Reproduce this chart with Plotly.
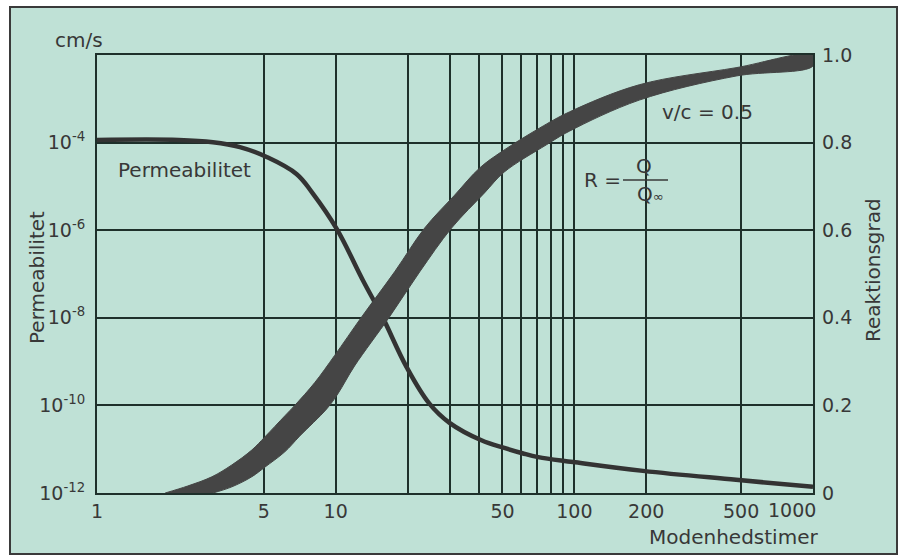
import plotly.graph_objects as go

# ---------------- data ----------------
hours_perm = [1, 2.2, 3.06, 3.97, 5.14, 6.87, 8.0, 10.1, 13.0, 15.7, 19.8, 24.7,
              30, 40.8, 50.9, 60.6, 70.6, 99, 194, 476, 1000]
permeability = [1.15e-4, 1.15e-4, 1.02e-4, 7.9e-5, 4.7e-5, 1.9e-5, 7.0e-6, 1.07e-6,
                7.2e-8, 1.05e-8, 7.6e-10, 1.1e-10, 4.0e-11, 1.6e-11, 1.07e-11,
                8.1e-12, 6.6e-12, 5.1e-12, 3.2e-12, 2.0e-12, 1.38e-12]

hours_r_upper = [1.93, 2.40, 3.03, 3.67, 4.45, 5.05, 6.12, 6.74, 8.17, 9.90, 12.85,
                 17.66, 23.6, 31.5, 40.1, 49.5, 71.4, 95.3, 187, 476, 1000]
r_upper = [0, 0.016, 0.037, 0.064, 0.098, 0.128, 0.176, 0.200, 0.252, 0.314, 0.402,
           0.505, 0.605, 0.680, 0.742, 0.779, 0.833, 0.870, 0.932, 0.971, 1.0]
hours_r_lower = [3.06, 3.67, 4.45, 5.05, 6.12, 7.07, 9.17, 10.2, 12.0, 16.8, 22.5,
                 30.6, 42.0, 50.9, 76.4, 95.3, 187, 476, 1000]
r_lower = [0, 0.014, 0.037, 0.059, 0.094, 0.130, 0.192, 0.226, 0.290, 0.402, 0.505,
           0.605, 0.685, 0.733, 0.795, 0.826, 0.897, 0.952, 0.975]

x_tickvals = [1, 5, 10, 20, 30, 40, 50, 60, 70, 80, 90, 100, 200, 500, 1000]
x_ticktext = ["1", "5", "10", "", "", "", "50", "", "", "", "", "100", "200", "500", ""]
x_last_label = "1000"
y_tickvals = [1e-12, 1e-10, 1e-8, 1e-6, 1e-4, 1e-2]
y_ticktext = ["10<sup>-12</sup>", "10<sup>-10</sup>", "10<sup>-8</sup>",
              "10<sup>-6</sup>", "10<sup>-4</sup>", ""]
y2_tickvals = [0, 0.2, 0.4, 0.6, 0.8, 1.0]
y2_ticktext = ["0", "0.2", "0.4", "0.6", "0.8", "1.0"]

# ---------------- layout geometry ----------------
W, H = 903, 557
L, R, T, B = 97, 813, 55, 493
MINT = "#bfe1d6"
INK = "#383838"
GRID = "#1e302b"
FONT = "DejaVu Sans"


def px(x):
    return (x - L) / (R - L)


def py(y):
    return (B - y) / (B - T)


fig = go.Figure()

# reaction band (filled polygon)
band_x = hours_r_upper + hours_r_lower[::-1]
band_y = r_upper + r_lower[::-1]
fig.add_trace(go.Scatter(
    x=band_x, y=band_y, yaxis="y2", mode="lines", fill="toself",
    fillcolor="#454545", line=dict(color="#454545", width=1, shape="spline", smoothing=1.0),
    hoverinfo="skip", showlegend=False))

# permeability curve
fig.add_trace(go.Scatter(
    x=hours_perm, y=permeability, mode="lines",
    line=dict(color="#333333", width=4.5, shape="spline", smoothing=1.1),
    showlegend=False))

fig.update_layout(
    width=W, height=H,
    margin=dict(l=L, r=W - R, t=T, b=H - B, autoexpand=False),
    paper_bgcolor="white",
    plot_bgcolor="rgba(0,0,0,0)",
    font=dict(family=FONT, size=19, color=INK),
    xaxis=dict(type="log", range=[0, 3], tickvals=x_tickvals, ticktext=x_ticktext,
               showgrid=True, gridcolor=GRID, gridwidth=1.6,
               showline=True, linecolor=GRID, linewidth=2, mirror=True,
               ticks="", ticklabelstandoff=0, zeroline=False,
               tickfont=dict(family=FONT, size=19, color=INK)),
    yaxis=dict(type="log", range=[-12, -2], tickvals=y_tickvals, ticktext=y_ticktext,
               showgrid=True, gridcolor=GRID, gridwidth=1.6,
               showline=True, linecolor=GRID, linewidth=2, mirror=True,
               ticks="", ticklabelstandoff=6, zeroline=False,
               tickfont=dict(family=FONT, size=19, color=INK)),
    yaxis2=dict(overlaying="y", side="right", range=[0, 1], tickvals=y2_tickvals,
                ticktext=y2_ticktext, showgrid=False, zeroline=False,
                ticks="", ticklabelstandoff=8,
                tickfont=dict(family=FONT, size=19, color=INK)),
)

shapes = [
    dict(type="rect", xref="paper", yref="paper", layer="below",
         x0=px(10), x1=px(897), y0=py(554), y1=py(7),
         fillcolor=MINT, line=dict(color="#3a3a3a", width=2)),
    dict(type="line", xref="paper", yref="paper", layer="above",
         x0=px(623), x1=px(668), y0=py(180), y1=py(180),
         line=dict(color=INK, width=1.5)),
]
fig.update_layout(shapes=shapes)


def ann(text, x, y, xanchor="left", size=20, angle=0):
    fig.add_annotation(text=text, xref="paper", yref="paper", x=px(x), y=py(y),
                       xanchor=xanchor, yanchor="middle", showarrow=False,
                       textangle=angle, font=dict(family=FONT, size=size, color=INK))


ann("cm/s", 53, 40, size=20)
ann("Permeabilitet", 37, 278, xanchor="center", angle=-90)
ann("Reaktionsgrad", 873, 270, xanchor="center", angle=-90)
ann("Modenhedstimer", 820, 537, xanchor="right")
ann(x_last_label, 818, 510, xanchor="right", size=19)
ann("Permeabilitet", 116, 170)
ann("v/c = 0.5", 660, 112)
ann("R =", 582, 180)
ann("Q", 644, 166, xanchor="center")
ann("Q<span style='font-size:13px'>\u221e</span>", 650, 194, xanchor="center")

fig.write_html("out.html")
